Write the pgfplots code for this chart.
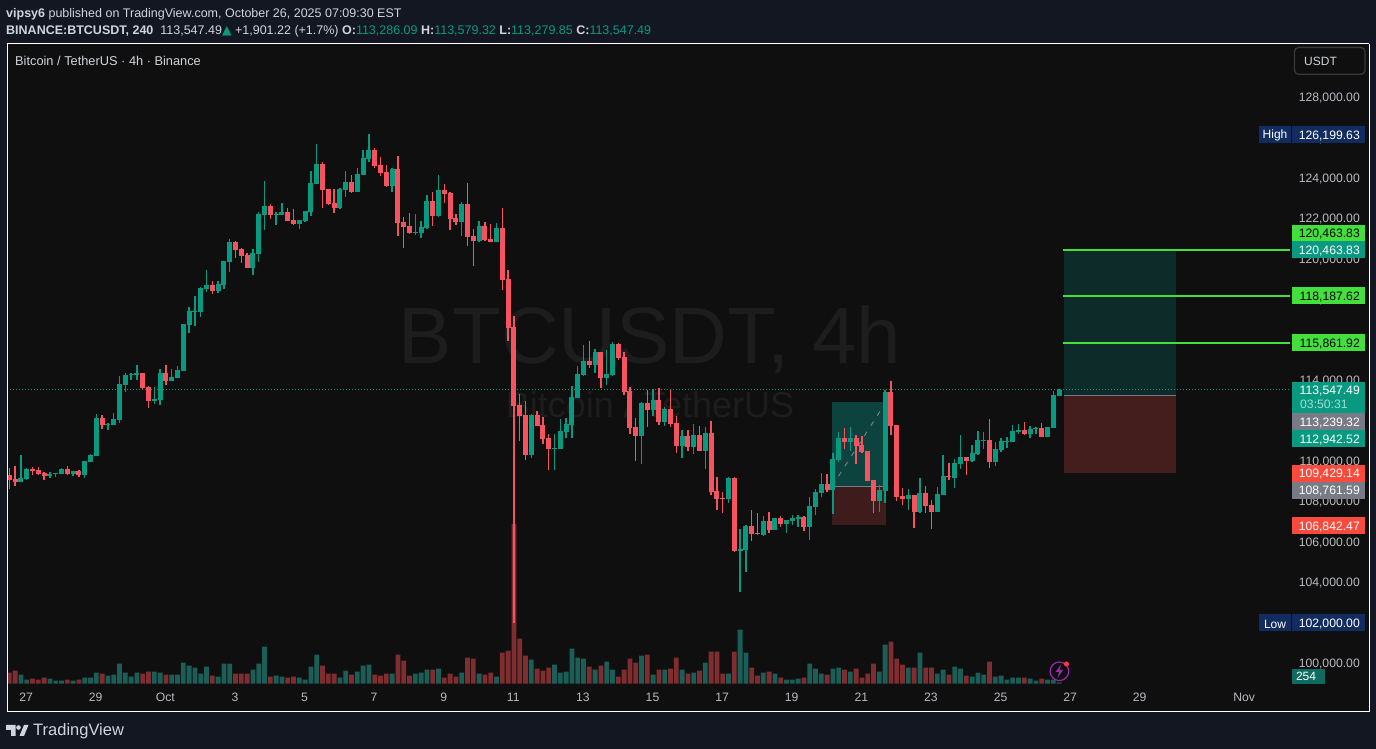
\documentclass[border=0pt]{standalone}
\usepackage{fontspec}
\setmainfont{Liberation Sans}
\newfontfamily\symfont{DejaVu Sans}
\usepackage{pgfplots}
\usepackage{pgfplotstable}
\pgfplotsset{compat=1.18}

\definecolor{outer}{HTML}{131722}
\definecolor{panel}{HTML}{0F0F0F}
\definecolor{upc}{HTML}{089981}
\definecolor{downc}{HTML}{F7525F}
\definecolor{volup}{HTML}{1B5E57}
\definecolor{voldown}{HTML}{7F2D2F}
\definecolor{txt}{HTML}{D1D4DC}
\definecolor{tick}{HTML}{B8BAC0}
\definecolor{wmark}{HTML}{1D1D1D}
\definecolor{tgt}{HTML}{43E03D}
\definecolor{navy}{HTML}{132C60}
\definecolor{greyb}{HTML}{787B86}
\definecolor{redb}{HTML}{F94A3B}
\definecolor{longbig}{HTML}{0C2B29}
\definecolor{shortbig}{HTML}{431E1D}
\definecolor{longsmall}{HTML}{0C433E}
\definecolor{shortsmall}{HTML}{3E1C1C}
\definecolor{volbox}{HTML}{0F6B60}
\definecolor{flash}{HTML}{9C27B0}
\definecolor{flashdot}{HTML}{F23645}

% i = 4h bar number, prices in thousand USDT, vol = bar height read off the volume pane
\pgfplotstableread{
i low bot top high vol
3 108.98 108.98 109.18 110.32 27
4 109.08 109.13 109.62 109.67 12
8 109.18 109.28 109.38 109.48 15
9 109.23 109.39 109.43 109.43 9
10 109.38 109.38 109.62 109.67 9
12 109.28 109.38 109.53 109.53 9
14 109.18 109.33 110.02 110.02 18
15 109.97 109.97 110.32 110.37 18
16 110.27 110.27 112.15 112.35 33
18 111.55 111.82 111.85 111.90 24
19 111.80 111.80 112.10 112.40 27
20 111.90 112.05 113.83 114.23 60
21 113.44 113.78 114.28 114.38 33
22 114.03 114.28 114.33 114.38 21
23 114.03 114.28 114.38 114.77 33
26 112.84 112.99 113.09 113.68 36
27 112.79 113.04 114.38 114.57 33
29 113.98 113.98 114.18 114.57 27
30 114.13 114.13 114.52 114.72 27
31 114.48 114.48 116.80 116.80 63
32 116.36 116.75 117.45 117.64 54
33 116.70 117.40 117.45 118.19 48
34 117.15 117.40 118.58 118.63 30
35 118.39 118.53 118.73 119.47 51
37 118.34 118.44 118.78 118.93 21
38 118.53 118.73 119.92 119.92 60
39 119.38 119.87 120.86 121.01 60
43 119.23 119.57 120.32 120.51 42
44 119.87 120.27 122.25 122.35 60
45 121.45 122.20 122.64 123.88 111
47 121.70 122.20 122.25 122.35 24
48 122.20 122.20 122.35 122.79 21
51 121.50 121.75 121.95 121.95 18
52 121.85 121.90 122.40 122.40 12
53 122.15 122.35 123.78 124.38 51
54 123.73 123.73 124.72 125.71 87
58 122.49 122.54 123.48 123.53 18
59 123.09 123.43 123.83 124.38 39
61 123.34 123.34 124.23 124.52 36
62 124.18 124.18 125.02 125.41 54
63 124.82 124.97 125.41 126.20 57
67 123.34 123.63 124.47 124.52 30
71 121.21 121.31 121.36 122.25 30
72 121.06 121.31 121.60 121.90 33
73 121.50 121.55 122.89 123.19 42
75 122.10 122.15 123.43 124.18 45
79 121.16 121.85 122.74 122.84 33
82 120.86 120.91 121.65 121.90 30
85 120.86 120.86 121.55 121.80 21
91 110.17 110.32 112.30 112.35 72
95 109.57 110.61 110.66 111.36 57
96 110.61 110.61 111.51 112.10 33
97 111.16 111.46 111.85 112.15 36
98 111.16 111.80 113.19 113.73 105
99 113.14 113.14 114.33 114.72 78
100 114.23 114.28 114.97 115.76 75
102 114.38 114.77 115.42 115.56 42
104 113.78 114.13 114.33 115.51 66
105 114.23 114.28 115.81 115.91 42
110 109.87 111.26 112.89 112.94 84
112 112.25 112.54 113.04 113.58 27
114 111.75 111.95 112.59 112.69 42
117 110.17 110.76 111.26 111.55 42
119 110.37 110.71 111.31 111.85 33
121 109.62 110.52 111.41 111.70 63
125 107.94 108.14 109.18 109.23 30
127 103.54 105.57 105.66 106.65 162
128 104.53 105.61 106.80 106.85 93
131 106.30 106.35 107.05 107.29 33
133 106.60 106.60 107.19 107.19 30
135 106.45 106.90 107.09 107.09 12
136 106.85 107.05 107.19 107.34 12
137 106.75 107.14 107.24 107.34 15
139 106.10 106.75 107.79 108.23 60
140 107.34 107.74 108.48 108.63 45
141 108.23 108.43 108.88 109.42 30
143 107.39 108.58 110.11 110.41 45
144 109.97 110.06 111.15 111.45 48
146 110.51 110.96 111.15 111.70 36
151 107.49 108.04 108.58 108.83 36
152 107.94 108.53 113.43 113.53 117
156 107.59 108.13 108.33 108.63 48
158 107.44 107.49 108.43 109.17 93
161 107.49 107.49 108.38 108.73 30
162 108.33 108.33 109.27 110.31 42
164 108.68 109.17 109.92 110.11 51
165 109.62 109.87 110.21 111.30 45
167 109.97 110.02 110.41 110.81 21
168 110.31 110.36 111.05 111.50 33
169 110.61 111.01 111.05 111.45 27
171 109.77 109.97 110.61 110.96 21
172 110.46 110.56 111.01 111.15 24
173 110.66 110.96 111.01 111.20 12
174 110.96 110.96 111.50 111.80 18
175 111.35 111.45 111.55 111.85 18
177 111.15 111.35 111.60 111.75 15
178 111.35 111.60 111.65 111.70 9
180 111.20 111.20 111.70 111.70 12
181 111.65 111.65 113.28 113.48 12
182 113.23 113.23 113.53 113.58 4
}\upbars

\pgfplotstableread{
i low bot top high vol
1 108.63 109.08 109.33 109.67 33
2 108.78 108.98 109.13 109.77 39
5 109.33 109.53 109.62 109.72 15
6 109.33 109.38 109.57 109.72 12
7 109.08 109.28 109.43 109.48 18
11 109.33 109.38 109.62 109.77 12
13 109.23 109.33 109.53 109.57 12
17 111.60 111.80 112.15 112.30 30
24 113.58 113.63 114.38 114.38 30
25 112.64 112.99 113.68 113.73 36
28 113.78 113.98 114.38 114.77 27
36 118.29 118.44 118.73 118.93 24
40 120.07 120.46 120.86 120.91 30
41 119.82 120.17 120.51 120.56 30
42 119.57 119.57 120.22 120.32 30
46 122.00 122.20 122.64 122.74 21
49 121.90 121.90 122.35 122.54 18
50 121.70 121.75 121.95 122.49 21
55 122.54 123.43 124.72 124.82 54
56 122.69 122.74 123.48 123.48 30
57 122.30 122.54 122.79 123.48 30
60 123.29 123.34 123.83 124.18 27
64 124.52 124.62 125.41 125.51 27
65 124.13 124.28 124.67 125.07 24
66 123.58 123.63 124.33 124.67 30
68 121.16 121.80 124.47 125.12 87
69 120.56 121.60 121.85 122.10 69
70 121.26 121.31 121.65 122.30 24
74 121.65 122.15 122.89 123.34 42
76 122.79 123.24 123.43 123.73 18
77 121.45 122.00 123.29 123.34 30
78 121.70 121.85 122.05 122.25 21
80 120.66 121.11 122.74 123.78 78
81 119.67 120.91 121.16 121.50 75
83 120.91 120.96 121.65 121.85 27
84 120.86 120.86 121.01 121.75 33
86 118.48 118.98 121.55 122.54 93
87 115.96 116.60 119.03 119.47 99
88 102.00 112.74 116.65 117.20 479
89 111.01 112.25 112.79 113.34 135
90 110.07 110.32 112.30 112.99 84
92 111.75 111.75 112.30 112.50 45
93 110.86 111.11 111.80 112.20 39
94 109.57 110.61 111.16 111.36 48
101 114.62 114.77 114.97 115.96 51
103 113.63 114.13 115.42 115.42 54
106 115.02 115.12 115.81 115.86 21
107 113.29 113.44 115.17 115.42 42
108 111.36 111.65 113.49 113.68 75
109 110.02 111.26 111.70 112.15 63
111 111.70 112.54 112.89 113.53 87
113 111.80 111.95 113.04 113.63 42
115 111.70 111.85 112.59 113.53 45
116 110.42 110.76 111.90 112.25 78
118 110.52 110.71 111.26 111.55 30
120 110.52 110.52 111.31 111.75 39
122 108.34 108.49 111.41 112.00 96
123 107.59 108.14 108.54 109.23 96
124 107.45 108.14 108.19 108.49 30
126 105.52 105.57 109.18 109.23 96
129 106.06 106.40 106.80 107.59 48
130 106.35 106.40 106.45 107.44 24
132 106.45 106.60 107.05 107.49 36
134 106.75 106.90 107.19 107.29 18
138 106.55 106.75 107.24 107.29 18
142 108.48 108.58 108.88 109.37 27
145 110.61 110.96 111.15 111.65 42
147 109.87 110.76 111.15 111.30 45
148 110.41 110.46 110.81 111.25 18
149 109.03 109.03 110.51 110.51 30
150 107.44 108.04 109.07 109.07 60
153 111.30 111.75 113.43 113.98 126
154 108.04 108.23 111.80 111.80 75
155 107.84 108.13 108.28 108.68 57
157 106.70 107.49 108.33 108.33 48
159 107.44 107.79 108.43 108.78 48
160 106.65 107.49 107.84 108.08 48
163 109.07 109.22 109.27 109.92 27
166 109.32 110.02 110.21 110.21 24
170 109.67 109.97 111.05 112.09 66
176 111.30 111.35 111.55 111.95 18
179 111.20 111.20 111.65 111.90 15
}\downbars

% wick and body of one colour
\newcommand{\candles}[2]{%
  \addplot[draw=none, mark=none, forget plot,
    error bars/.cd, y dir=plus, y explicit, error mark=none,
    error bar style={draw=#2, line width=1.4pt, solid}]
    table[x=i, y=low, y error plus expr=\thisrow{high}-\thisrow{low}] {#1};
  \addplot[draw=none, mark=none, forget plot,
    error bars/.cd, y dir=plus, y explicit, error mark=none,
    error bar style={draw=#2, line width=4.9pt, solid}]
    table[x=i, y=bot, y error plus expr=\thisrow{top}-\thisrow{bot}] {#1};
}
\newcommand{\pricebox}[4]{% y px, fill, text colour, text
  \fill[#2] (1292,{749-#1-8.5}) rectangle (1365,{749-#1+8.5});
  \node[anchor=east, inner sep=0pt, text=#3, font=\fontsize{12.2}{14}\selectfont] at (1360,{749-#1-1.2}) {#4};
}

\begin{document}
\begin{tikzpicture}[x=1pt, y=1pt]
\useasboundingbox (0,0) rectangle (1376,749);
\fill[outer] (0,0) rectangle (1376,749);
\fill[panel] (7,37) rectangle (1369,705);

% watermark
\node[text=wmark, inner sep=0pt, font=\fontsize{80}{90}\selectfont] at (650,409) {BTCUSDT, 4h};
\node[text=wmark, inner sep=0pt, font=\fontsize{36}{40}\selectfont] at (650,344) {Bitcoin / TetherUS};

% volume pane
\begin{axis}[
  at={(7pt,37pt)}, anchor=south west, scale only axis,
  width=1362pt, height=668pt,
  xmin=0.603, xmax=235.43, ymin=-85, ymax=1919,
  hide axis, clip=true,
  ybar, bar width=4.8pt, bar shift=0pt,
]
\addplot[draw=none, fill=volup] table[x=i, y=vol] {\upbars};
\addplot[draw=none, fill=voldown] table[x=i, y=vol] {\downbars};
\end{axis}

% price pane
\begin{axis}[
  at={(7pt,37pt)}, anchor=south west, scale only axis,
  width=1362pt, height=668pt,
  xmin=0.603, xmax=235.43, ymin=97.59, ymax=130.66,
  axis line style={white, line width=1pt},
  axis x line*=bottom, axis y line*=right,
  major tick length=0pt,
  ytick={100,102,104,106,108,110,112,114,116,118,120,122,124,126,128},
  yticklabels={{100,000.00},{102,000.00},{104,000.00},{106,000.00},{108,000.00},{110,000.00},{112,000.00},{114,000.00},{116,000.00},{118,000.00},{120,000.00},{122,000.00},{124,000.00},{126,000.00},{128,000.00}},
  yticklabel style={anchor=east, inner sep=0pt, xshift=-9pt, yshift=-0.5pt, text=tick, font=\fontsize{12.2}{14}\selectfont},
  xtick={3.9,15.9,27.9,39.9,51.9,63.9,75.9,87.9,99.9,111.9,123.9,135.9,147.9,159.9,171.9,183.9,195.9,213.9},
  xticklabels={27,29,Oct,3,5,7,9,11,13,15,17,19,21,23,25,27,29,Nov},
  xticklabel style={anchor=center, inner sep=0pt, yshift=15pt, text=tick, font=\fontsize{12.2}{14}\selectfont},
]
% small long position
\addplot[draw=none, fill=longsmall] coordinates {(142.84,108.76)(152.16,108.76)(152.16,112.94)(142.84,112.94)};
\addplot[draw=none, fill=shortsmall] coordinates {(142.84,106.84)(152.16,106.84)(152.16,108.76)(142.84,108.76)};
\addplot[greyb, line width=1pt] coordinates {(142.84,108.76)(152.16,108.76)};
\addplot[greyb, line width=1pt, dash pattern=on 5pt off 7pt] coordinates {(142.84,108.76)(152.16,112.94)};
% large long position
\addplot[draw=none, fill=longbig] coordinates {(182.84,113.24)(202.16,113.24)(202.16,120.46)(182.84,120.46)};
\addplot[draw=none, fill=shortbig] coordinates {(182.84,109.43)(202.16,109.43)(202.16,113.24)(182.84,113.24)};
\addplot[greyb, line width=1pt] coordinates {(182.84,113.24)(202.16,113.24)};
% target lines
\addplot[tgt, line width=1.6pt] coordinates {(182.67,120.46)(221.8,120.46)};
\addplot[tgt, line width=1.6pt] coordinates {(182.67,118.19)(221.8,118.19)};
\addplot[tgt, line width=1.6pt] coordinates {(182.67,115.86)(221.8,115.86)};
% last price
\addplot[upc, line width=1.3pt, dash pattern=on 1.3pt off 1.7pt] coordinates {(0.603,113.55)(221.5,113.55)};
\candles{\upbars}{upc}
\candles{\downbars}{downc}
\end{axis}

% frame top edge and left edge
\draw[white, line width=1pt] (7,37) -- (7,705) -- (1369,705);

% price labels
\fill[upc] (1292,{749-413.3}) rectangle (1365,{749-382});
\node[anchor=east, inner sep=0pt, text=white, font=\fontsize{12.2}{14}\selectfont] at (1360,357.8) {113,547.49};
\node[anchor=west, inner sep=0pt, text=white!65!upc, font=\fontsize{12.2}{14}\selectfont] at (1300,344.7) {03:50:31};
\pricebox{233.3}{tgt}{black}{120,463.83}
\pricebox{250}{upc}{white}{120,463.83}
\pricebox{296}{tgt}{black}{118,187.62}
\pricebox{343}{tgt}{black}{115,861.92}
\pricebox{421.8}{greyb}{white}{113,239.32}
\pricebox{438.7}{upc}{white}{112,942.52}
\pricebox{473.3}{redb}{white}{109,429.14}
\pricebox{490.2}{greyb}{white}{108,761.59}
\pricebox{525.5}{redb}{white}{106,842.47}
\pricebox{134.5}{navy}{white}{126,199.63}
\pricebox{623}{navy}{white}{102,000.00}
\fill[navy] (1259,{749-143}) rectangle (1291,{749-126});
\node[text=white, font=\fontsize{12}{14}\selectfont, inner sep=0pt] at (1275,{749-135.5}) {High};
\fill[navy] (1259,{749-631.5}) rectangle (1291,{749-614.5});
\node[text=white, font=\fontsize{12}{14}\selectfont, inner sep=0pt] at (1275,{749-624}) {Low};
\fill[volbox] (1292,{749-684}) rectangle (1325,{749-669});
\node[text=white, font=\fontsize{12}{14}\selectfont, inner sep=0pt] at (1306,{749-676.5}) {254};

% USDT button
\draw[draw=white!18!panel, line width=1.2pt, rounded corners=4pt] (1294.5,{749-74.3}) rectangle (1365,{749-47.5});
\node[anchor=west, text=txt, inner sep=0pt, font=\fontsize{12}{14}\selectfont] at (1304,{749-61}) {USDT};

% header
\node[anchor=west, inner sep=0pt, text=txt, font=\fontsize{12.5}{14}\selectfont] at (6,735) {\textbf{vipsy6} published on TradingView.com, October 26, 2025 07:09:30 EST};
\node[anchor=west, inner sep=0pt, text=txt, font=\fontsize{12.5}{14}\selectfont] at (6,718) {\textbf{BINANCE:BTCUSDT, 240}\ \ 113,547.49{\color{upc}\symfont ▲} +1,901.22 (+1.7\%) \textbf{O:}{\color{upc}113,286.09} \textbf{H:}{\color{upc}113,579.32} \textbf{L:}{\color{upc}113,279.85} \textbf{C:}{\color{upc}113,547.49}};
\node[anchor=west, inner sep=0pt, text=txt, font=\fontsize{12.8}{14}\selectfont] at (15,688.5) {Bitcoin / TetherUS · 4h · Binance};

% footer logo
\fill[txt] (6,24) -- (15.5,24) -- (15.5,13) -- (11,13) -- (11,19) -- (6,19) -- cycle;
\fill[txt] (18.5,21.5) circle (2.3);
\fill[txt] (24,24) -- (28.5,24) -- (24,13) -- (19.5,13) -- cycle;
\node[anchor=west, inner sep=0pt, text=txt, font=\fontsize{16.5}{18}\selectfont] at (33,18) {TradingView};

% flash icon
\draw[draw=flash, line width=1.2pt] (1059.4,{749-671.3}) circle (9.3);
\fill[flash] (1061,{749-664.5}) -- (1055.5,{749-672}) -- (1059,{749-672}) -- (1057.5,{749-678}) -- (1063,{749-670}) -- (1059.5,{749-670}) -- cycle;
\fill[flashdot] (1066.5,{749-664}) circle (2.6);
\end{tikzpicture}
\end{document}
